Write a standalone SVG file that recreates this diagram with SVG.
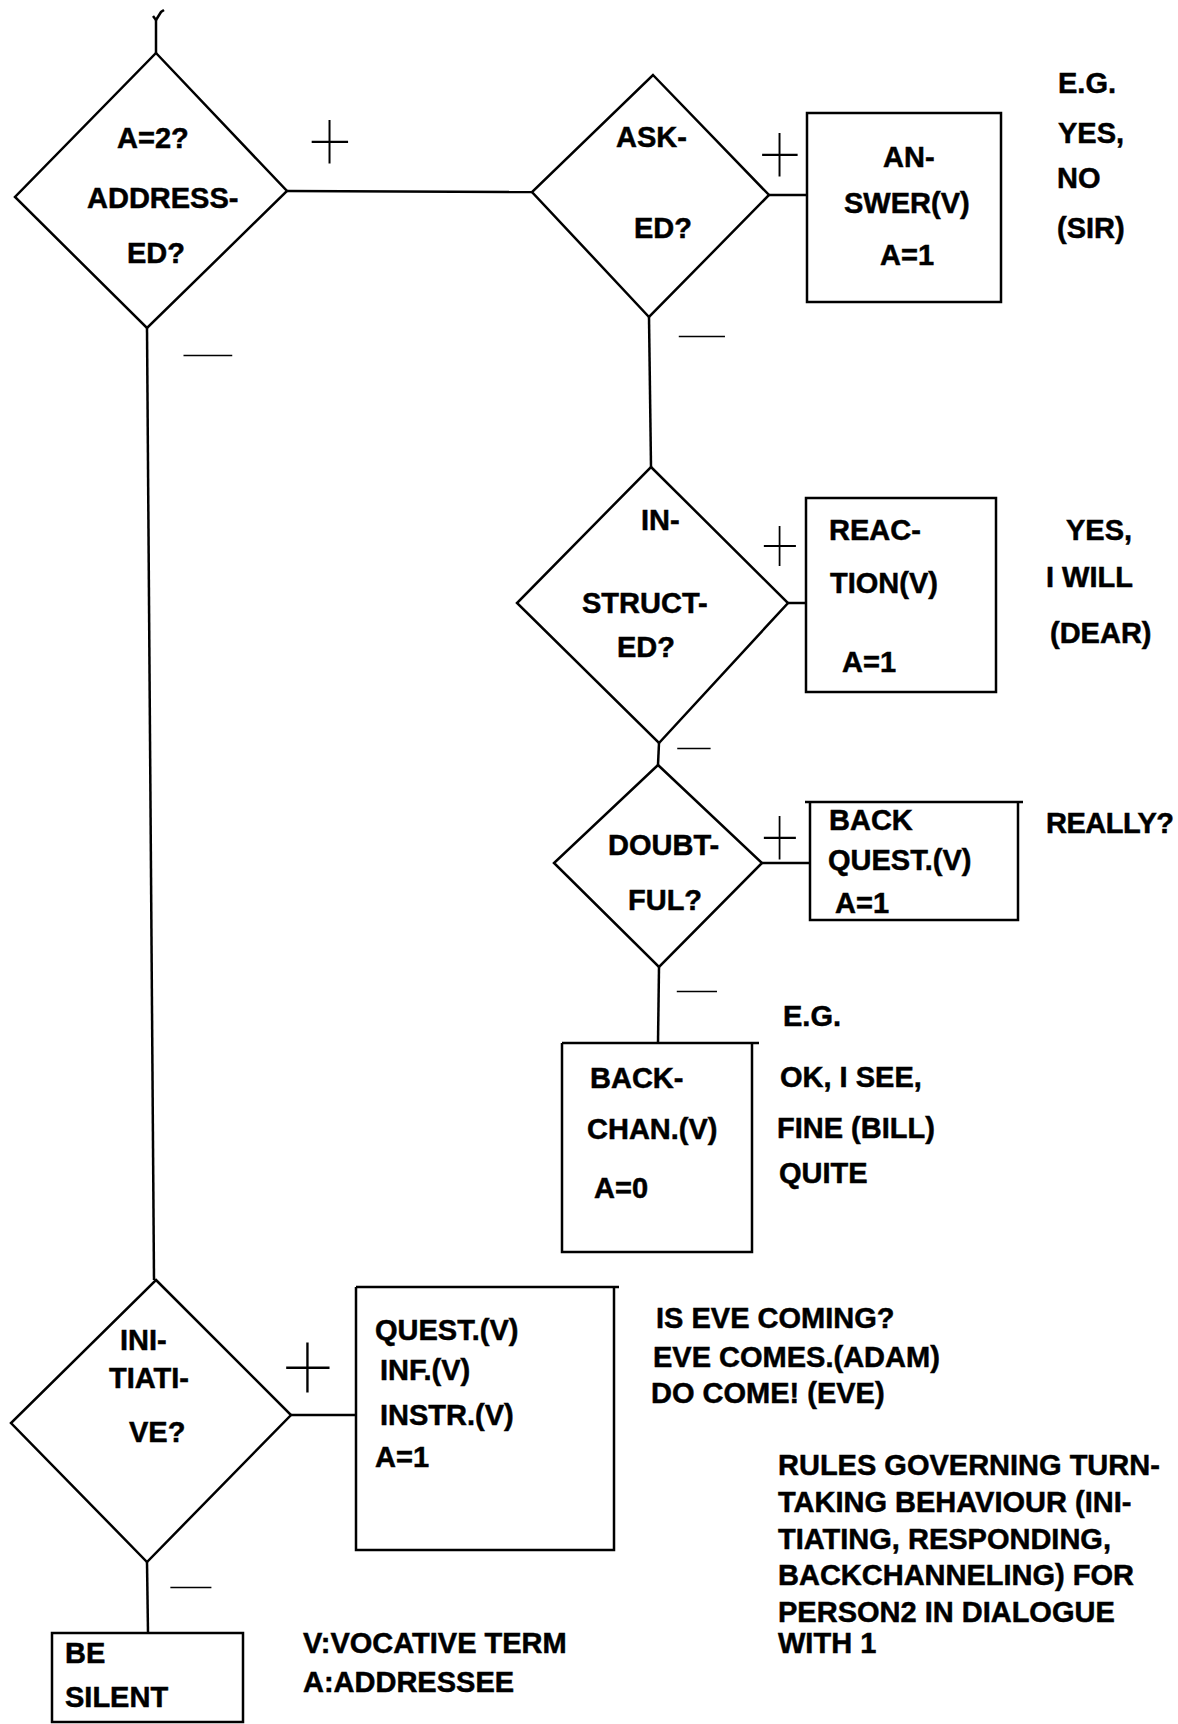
<svg xmlns="http://www.w3.org/2000/svg" width="1178" height="1724" viewBox="0 0 1178 1724">
<style>
.shape{fill:none;stroke:#000;stroke-width:2.5;stroke-linejoin:miter}
.edge{fill:none;stroke:#000;stroke-width:2.5}
.t{font-family:"Liberation Sans",Arial,Helvetica,sans-serif;font-weight:bold;font-size:29px;fill:#000;stroke:#000;stroke-width:0.5}
.sym{font-family:Roboto,"Liberation Sans",sans-serif;font-weight:100;fill:#000;text-anchor:middle;dominant-baseline:central}
</style>
<rect width="1178" height="1724" fill="#fff"/>

<g id="connectors">
  <path class="edge" d="M156,20 L156,53"/>
  <path class="edge" d="M156,20 L161,12 L164,10 M156,20 L153,16" stroke-width="2"/>
  <path class="edge" d="M287,191 L532,192"/>
  <path class="edge" d="M769,195 L807,195"/>
  <path class="edge" d="M649,317 L651,467"/>
  <path class="edge" d="M788,603 L807,603"/>
  <path class="edge" d="M659,743 L658,765"/>
  <path class="edge" d="M762,863 L811,863"/>
  <path class="edge" d="M659,967 L658,1043"/>
  <path class="edge" d="M147,328 L154,1280"/>
  <path class="edge" d="M291,1415 L356,1415"/>
  <path class="edge" d="M147,1562 L148,1633"/>
</g>

<g id="edge-labels">
  <text class="sym" x="330" y="141" font-size="84" textLength="42" lengthAdjust="spacingAndGlyphs">+</text>
  <text class="sym" x="780" y="154" font-size="84" textLength="41" lengthAdjust="spacingAndGlyphs">+</text>
  <text class="sym" x="780" y="545" font-size="78" textLength="37" lengthAdjust="spacingAndGlyphs">+</text>
  <text class="sym" x="780" y="837" font-size="84" textLength="37" lengthAdjust="spacingAndGlyphs">+</text>
  <text class="sym" x="308" y="1367" font-size="96" textLength="50" lengthAdjust="spacingAndGlyphs">+</text>
  <text class="sym" x="208" y="357" font-size="56" textLength="57" lengthAdjust="spacingAndGlyphs">—</text>
  <text class="sym" x="702" y="338" font-size="56" textLength="54" lengthAdjust="spacingAndGlyphs">—</text>
  <text class="sym" x="694" y="750" font-size="56" textLength="39" lengthAdjust="spacingAndGlyphs">—</text>
  <text class="sym" x="697" y="993" font-size="56" textLength="47" lengthAdjust="spacingAndGlyphs">—</text>
  <text class="sym" x="191" y="1589" font-size="56" textLength="48" lengthAdjust="spacingAndGlyphs">—</text>
</g>

<g id="addressed">
  <polygon class="shape" points="156,53 287,191 147,328 15,197"/>
  <text class="t" x="117" y="148">A=2?</text>
  <text class="t" x="87" y="208">ADDRESS-</text>
  <text class="t" x="127" y="263">ED?</text>
</g>

<g id="asked">
  <polygon class="shape" points="653,75 769,195 649,317 532,192"/>
  <text class="t" x="616" y="147">ASK-</text>
  <text class="t" x="634" y="238">ED?</text>
</g>

<g id="answer">
  <rect class="shape" x="807" y="113" width="194" height="189"/>
  <text class="t" x="883" y="167">AN-</text>
  <text class="t" x="844" y="213">SWER(V)</text>
  <text class="t" x="880" y="265">A=1</text>
</g>

<g id="answer-examples">
  <text class="t" x="1058" y="93">E.G.</text>
  <text class="t" x="1058" y="143">YES,</text>
  <text class="t" x="1057" y="188">NO</text>
  <text class="t" x="1057" y="238">(SIR)</text>
</g>

<g id="instructed">
  <polygon class="shape" points="651,467 788,603 659,743 517,603"/>
  <text class="t" x="641" y="530">IN-</text>
  <text class="t" x="582" y="613">STRUCT-</text>
  <text class="t" x="617" y="657">ED?</text>
</g>

<g id="reaction">
  <rect class="shape" x="806" y="498" width="190" height="194"/>
  <text class="t" x="829" y="540">REAC-</text>
  <text class="t" x="830" y="593">TION(V)</text>
  <text class="t" x="842" y="672">A=1</text>
</g>

<g id="reaction-examples">
  <text class="t" x="1066" y="540">YES,</text>
  <text class="t" x="1046" y="587">I WILL</text>
  <text class="t" x="1050" y="643">(DEAR)</text>
</g>

<g id="doubtful">
  <polygon class="shape" points="658,765 762,863 659,967 554,863"/>
  <text class="t" x="608" y="855">DOUBT-</text>
  <text class="t" x="628" y="910">FUL?</text>
</g>

<g id="backquest">
  <path class="shape" d="M805,802 L1023,802 M810,802 L810,920 L1018,920 L1018,802"/>
  <text class="t" x="829" y="830">BACK</text>
  <text class="t" x="828" y="870">QUEST.(V)</text>
  <text class="t" x="835" y="913">A=1</text>
</g>

<g id="backquest-example">
  <text class="t" x="1046" y="833" textLength="128">REALLY?</text>
</g>

<g id="backchan">
  <path class="shape" d="M562,1043 L759,1043 M562,1043 L562,1252 L752,1252 L752,1043"/>
  <text class="t" x="590" y="1088">BACK-</text>
  <text class="t" x="587" y="1139">CHAN.(V)</text>
  <text class="t" x="594" y="1198">A=0</text>
</g>

<g id="backchan-examples">
  <text class="t" x="783" y="1026">E.G.</text>
  <text class="t" x="780" y="1087">OK, I SEE,</text>
  <text class="t" x="777" y="1138">FINE (BILL)</text>
  <text class="t" x="779" y="1183">QUITE</text>
</g>

<g id="initiative">
  <polygon class="shape" points="156,1280 291,1415 147,1562 11,1423"/>
  <text class="t" x="120" y="1350">INI-</text>
  <text class="t" x="109" y="1388">TIATI-</text>
  <text class="t" x="129" y="1442">VE?</text>
</g>

<g id="initiate">
  <path class="shape" d="M356,1287 L619,1287 M356,1287 L356,1550 L614,1550 L614,1287"/>
  <text class="t" x="375" y="1340">QUEST.(V)</text>
  <text class="t" x="380" y="1380">INF.(V)</text>
  <text class="t" x="380" y="1425">INSTR.(V)</text>
  <text class="t" x="375" y="1467">A=1</text>
</g>

<g id="initiate-examples">
  <text class="t" x="656" y="1328">IS EVE COMING?</text>
  <text class="t" x="653" y="1367">EVE COMES.(ADAM)</text>
  <text class="t" x="651" y="1403">DO COME! (EVE)</text>
</g>

<g id="silent">
  <rect class="shape" x="52" y="1633" width="191" height="89"/>
  <text class="t" x="65" y="1663">BE</text>
  <text class="t" x="65" y="1707">SILENT</text>
</g>

<g id="legend">
  <text class="t" x="303" y="1653">V:VOCATIVE TERM</text>
  <text class="t" x="303" y="1692">A:ADDRESSEE</text>
</g>

<g id="caption">
  <text class="t" x="778" y="1475">RULES GOVERNING TURN-</text>
  <text class="t" x="778" y="1512">TAKING BEHAVIOUR (INI-</text>
  <text class="t" x="778" y="1549">TIATING, RESPONDING,</text>
  <text class="t" x="778" y="1585">BACKCHANNELING) FOR</text>
  <text class="t" x="778" y="1622">PERSON2 IN DIALOGUE</text>
  <text class="t" x="778" y="1653">WITH 1</text>
</g>
</svg>
